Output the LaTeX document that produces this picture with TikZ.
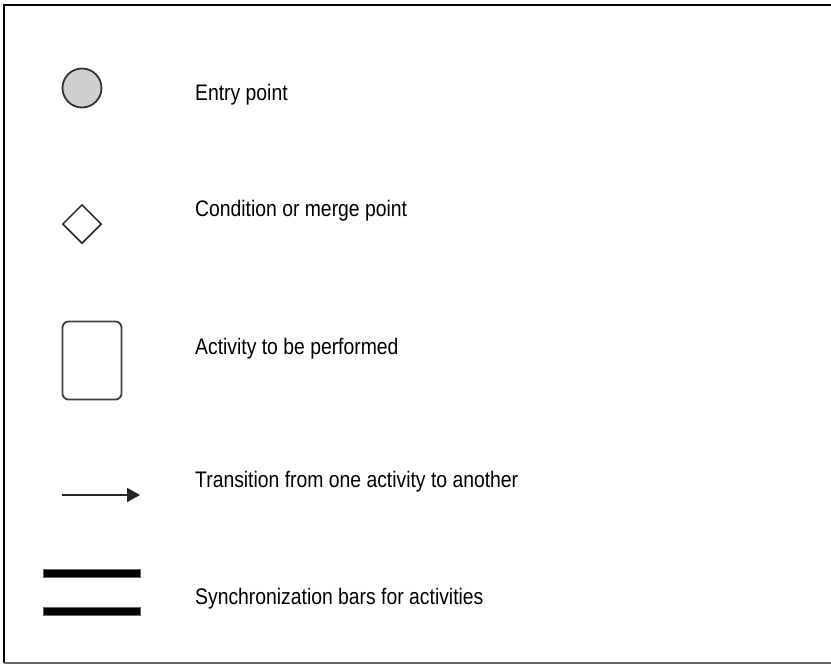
\documentclass[tikz,border=0pt]{standalone}
\usepackage{fontspec}
\setmainfont{Liberation Sans}[FakeStretch=0.86]
\usetikzlibrary{shapes.geometric,arrows.meta}
\begin{document}
\begin{tikzpicture}[x=1pt,y=-1pt,
  lbl/.style={anchor=base west,inner sep=0pt,font=\fontsize{22.5}{25}\selectfont,text=black},
  entrysym/.style={circle,draw=black!80,fill=black!19,line width=1.8pt,minimum size=39pt,inner sep=0pt},
  condsym/.style={diamond,draw=black!85,line width=1.5pt,minimum size=39pt,inner sep=0pt},
  actsym/.style={rectangle,rounded corners=6pt,draw=black!75,line width=1.8pt,minimum width=59pt,minimum height=78pt,inner sep=0pt},
  barsym/.style={rectangle,fill=black,draw=black!60,line width=0.5pt,minimum width=97pt,minimum height=8pt,inner sep=0pt},
  frame/.style={draw=black,line width=2.5pt}
]
\useasboundingbox (0,0) rectangle (831,665);
\draw[frame] (4,663) -- (4,5) -- (840,5);
\draw[draw=black!60,line width=2.2pt] (4,663) -- (840,663);

\node[entrysym] (entry) at (82,88) {};
\node[condsym] (cond) at (82,224) {};
\node[actsym] (act) at (92,360.5) {};
\coordinate (trs) at (62,495);
\coordinate (tre) at (140,495);
\draw[line width=1.8pt,draw=black!85,-{Triangle[length=13pt,width=14pt]}] (trs) -- (tre);
\node[barsym] (bar1) at (91.5,573) {};
\node[barsym] (bar2) at (91.5,611.5) {};

\node[lbl] (tentry) at (195,100) {Entry point};
\node[lbl] (tcond) at (195,216.5) {Condition or merge point};
\node[lbl] (tact) at (195,354) {Activity to be performed};
\node[lbl] (ttrans) at (195,487.3) {Transition from one activity to another};
\node[lbl] (tsync) at (195,604) {Synchronization bars for activities};
\end{tikzpicture}
\end{document}
